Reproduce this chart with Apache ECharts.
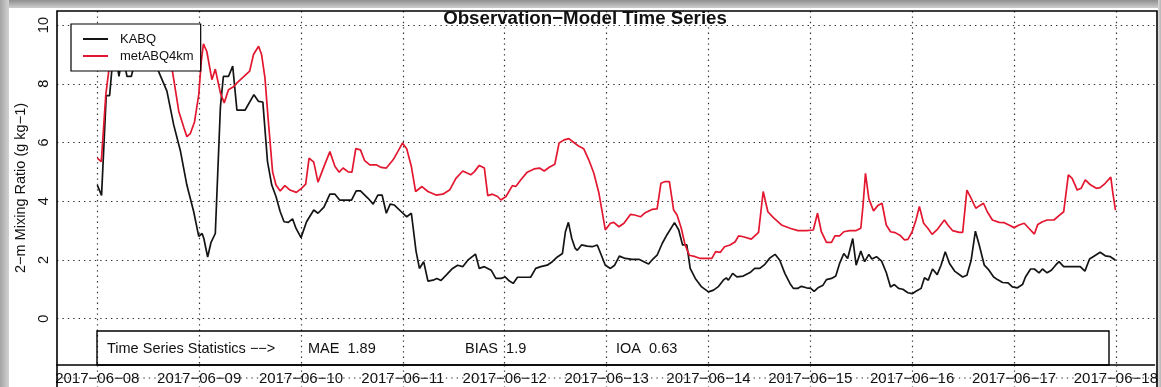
<!DOCTYPE html>
<html>
<head>
<meta charset="utf-8">
<script src="https://cdn.jsdelivr.net/npm/echarts@6/dist/echarts.min.js"></script>
<style>
  html, body { margin: 0; padding: 0; background: #fff; }
  #wrap { position: relative; width: 1161px; height: 387px; overflow: hidden; background: #fff; }
  #chart { position: absolute; left: 0; top: 0; width: 1161px; height: 387px; }
  .band { position: absolute; }
  .top { left: 0; top: 0; width: 1161px; height: 8px; background: linear-gradient(#8f8f8f, #cdcdcd); }
  .left { left: 0; top: 0; width: 9px; height: 387px; background: linear-gradient(90deg, #a4a4a4, #d2d2d2); }
  .right { right: 0; top: 0; width: 3px; height: 387px; background: linear-gradient(90deg, #dadada, #b4b4b4); }
</style>
</head>
<body>
<div id="wrap">
  <div id="chart"></div>
  <div class="band top"></div>
  <div class="band left"></div>
  <div class="band right"></div>
</div>
<script>
// Hours since 2017-06-08 00:00 and 2-m mixing ratio (g/kg)
const kabq = [
  [0,4.55],[1,4.2],[2.1,7.6],[2.9,7.6],[3.5,8.6],[4.5,8.8],[5.1,8.25],[5.6,8.7],[6.5,8.6],[7,8.25],[8,8.25],
  [8.6,8.6],[10,8.9],[11.5,8.7],[13,8.9],[14.5,8.4],[16.4,7.75],[18,6.6],[19.6,5.7],[21.1,4.55],[22.7,3.65],
  [23.9,2.8],[24.7,2.9],[25.1,2.73],[26,2.1],[26.8,2.6],[27.8,2.9],[29,7.2],[29.7,8.25],[30.9,8.25],[31.9,8.6],
  [32.9,7.1],[34.8,7.1],[36.9,7.63],[38,7.4],[39,7.38],[40.1,5.35],[41.1,4.55],[42.1,4.16],[43.1,3.64],[44,3.3],
  [45,3.28],[46,3.4],[46.8,3.08],[48,2.76],[49.3,3.3],[51,3.7],[52,3.59],[53.4,3.8],[54.8,4.24],[56,4.24],
  [57.1,4.04],[59.9,4.04],[61,4.35],[62,4.35],[63.8,4.1],[65,3.9],[66.1,4.21],[67.1,4.21],[68.1,3.59],[69,3.9],
  [70,3.87],[72,3.59],[72.9,3.47],[74,3.59],[75.1,2.3],[75.9,1.71],[76.9,1.94],[77.9,1.28],[79.1,1.31],[80,1.37],
  [81,1.3],[82.2,1.48],[83.7,1.71],[84.9,1.82],[86.1,1.77],[87.3,1.99],[89.1,2.2],[90,1.71],[91.2,1.77],[92.8,1.65],
  [93.9,1.37],[95.1,1.37],[96.1,1.42],[97.1,1.28],[98,1.2],[99,1.41],[100.2,1.41],[102.1,1.41],[103.3,1.71],
  [104.5,1.77],[106,1.82],[107.2,1.94],[108.4,2.1],[109.6,2.22],[110.3,2.96],[111,3.28],[111.8,2.73],[112.6,2.39],
  [113.1,2.33],[114.1,2.51],[115.4,2.47],[116.6,2.45],[117.8,2.51],[118.3,2.33],[119.7,1.82],[120.9,1.71],
  [121.9,1.82],[123,2.13],[124.4,2.05],[126,2.02],[127.6,2.02],[128.8,1.94],[129.9,1.86],[130.9,2.03],[131.9,2.16],
  [133.1,2.56],[134.2,2.85],[136,3.27],[137,3.02],[137.9,2.51],[138.9,2.51],[139.7,1.71],[140.9,1.37],[142.4,1.08],
  [144,0.91],[145.2,0.97],[146.4,1.1],[147.5,1.31],[148.2,1.39],[148.7,1.31],[149.7,1.54],[150.7,1.42],[152.2,1.45],
  [153.8,1.57],[154.9,1.71],[156.1,1.71],[157.3,1.85],[158.5,2.07],[159.7,2.19],[160.8,1.99],[162,1.54],[163.2,1.2],
  [164,1.03],[165,1.03],[165.9,1.1],[167.1,1.05],[168.1,1.03],[168.9,0.93],[169.8,1.05],[171,1.14],[171.8,1.33],
  [173,1.37],[174,1.45],[174.9,1.88],[175.9,2.22],[176.8,2.05],[178,2.73],[178.8,1.82],[179.9,2.3],[180.8,1.94],
  [181.8,2.19],[182.5,2.03],[183.6,2.11],[184.8,1.96],[185.9,1.57],[186.9,1.08],[187.8,1.16],[188.8,1.03],
  [189.8,1.0],[191,0.88],[192,0.85],[192.9,0.93],[194.1,1.03],[194.9,1.39],[195.8,1.31],[196.8,1.69],[197.9,1.5],
  [198.8,1.82],[199.8,2.28],[200.8,1.88],[202,1.62],[203.9,1.42],[204.9,1.48],[205.9,1.99],[206.9,2.98],
  [207.8,2.51],[209,1.82],[210.1,1.65],[211.2,1.42],[212.1,1.33],[213.3,1.23],[214.6,1.22],[215.6,1.08],
  [216.8,1.05],[218,1.16],[218.7,1.42],[219.9,1.69],[220.8,1.69],[221.9,1.56],[222.7,1.69],[223.8,1.56],
  [224.8,1.65],[225.8,1.82],[226.6,1.94],[227.7,1.77],[228.9,1.77],[230.1,1.77],[231.6,1.77],[232.7,1.62],
  [233.8,2.03],[235.2,2.16],[236.3,2.26],[237.5,2.14],[238.7,2.11],[239.9,1.99]
];

const metABQ4km = [
  [0,5.47],[0.94,5.35],[2,7.63],[2.75,8.5],[4,9.0],[6,9.2],[8,9.0],[10,9.3],[12,9.1],[14,9.0],[16,8.9],
  [17.7,8.43],[19.2,7.06],[20.4,6.5],[21.1,6.2],[21.9,6.3],[22.9,6.7],[23.9,7.63],[24.5,8.77],[25,9.36],
  [25.8,9.1],[27,8.14],[27.8,8.5],[29,7.69],[29.9,7.35],[30.9,7.8],[32.1,7.9],[32.9,8.03],[35.9,8.43],[36.8,9.0],
  [38,9.28],[38.7,9.0],[39.5,8.2],[40.3,6.72],[41.3,5.0],[42.1,4.55],[43.1,4.35],[44.2,4.53],[45.4,4.38],
  [46.9,4.3],[48.1,4.44],[49.1,4.58],[49.9,5.47],[51,5.33],[52,4.65],[53.4,5.18],[54.8,5.69],[56,5.18],[57,4.99],
  [57.9,5.13],[59.1,5.0],[60,4.99],[60.9,5.79],[62,5.75],[63,5.38],[64.2,5.24],[65.7,5.24],[66.9,5.15],[68.1,5.13],
  [69.7,5.41],[70.8,5.69],[71.9,5.98],[72.9,5.79],[74,5.18],[75,4.33],[76.5,4.5],[77.9,4.33],[79.8,4.21],
  [81.4,4.24],[83,4.38],[84.5,4.78],[86.1,5.03],[88,4.9],[88.8,5.0],[90,5.22],[91.2,5.13],[92,4.19],[93.1,4.24],
  [94.3,4.16],[95.1,4.04],[96.3,4.16],[97.8,4.53],[98.6,4.5],[99.8,4.73],[101.3,4.99],[102.9,5.1],[104.2,5.13],
  [105.3,5.03],[106.4,5.15],[107.8,5.26],[108.8,5.98],[110,6.09],[111.1,6.13],[112.3,6.0],[113.5,5.87],
  [114.6,5.79],[115.8,5.41],[117,4.95],[118.2,4.27],[119.7,3.02],[120.9,3.25],[121.7,3.28],[122.9,3.13],
  [124.1,3.25],[125.6,3.55],[126.6,3.53],[128,3.47],[129.1,3.61],[130.7,3.72],[131.9,3.74],[132.8,4.61],
  [133.8,4.67],[134.8,4.67],[135.8,3.7],[136.6,3.53],[137.6,3.08],[138.5,2.51],[139.5,2.16],[140.9,2.11],
  [142.1,2.05],[144,2.05],[144.8,2.05],[145.7,2.28],[146.8,2.26],[147.8,2.45],[149.1,2.51],[150.3,2.62],
  [151.1,2.82],[152.2,2.79],[154.1,2.71],[155.8,2.94],[156.9,4.33],[158,3.64],[159.3,3.44],[161.2,3.19],
  [163.2,3.08],[165.1,3.0],[167.1,3.0],[168.7,3.02],[169.7,3.59],[170.6,2.96],[171.8,2.6],[173,2.6],[173.8,2.82],
  [174.9,2.82],[175.9,2.96],[177.3,3.0],[178.8,3.0],[179.9,3.08],[180.4,3.82],[181,4.95],[181.8,4.08],
  [182.9,3.67],[183.9,3.85],[184.9,3.93],[185.9,3.19],[186.9,2.96],[188,2.93],[189.3,2.82],[190.2,2.68],[191,2.7],
  [192,2.96],[192.9,3.36],[193.7,3.82],[194.7,3.25],[195.7,3.08],[196.7,2.87],[198,3.05],[199.6,3.36],[200.4,3.19],
  [201.5,3.0],[203.1,2.94],[203.9,2.94],[204.9,4.38],[205.9,4.1],[207,3.76],[207.8,3.84],[208.8,3.93],[209.7,3.64],
  [210.9,3.36],[212.5,3.28],[213.7,3.27],[214.8,3.19],[216,3.1],[217.2,3.19],[218.4,3.25],[219.5,3.08],
  [220.8,2.88],[221.6,3.21],[222.7,3.3],[223.8,3.36],[225.4,3.36],[226.6,3.51],[227.7,3.64],[228.8,4.9],
  [229.7,4.78],[230.9,4.38],[231.8,4.44],[232.8,4.73],[234,4.56],[235.4,4.44],[236.3,4.46],[237.5,4.61],
  [238.8,4.82],[239.3,4.27],[239.9,3.7]
];

const dayLabels = ['2017−06−08','2017−06−09','2017−06−10','2017−06−11','2017−06−12','2017−06−13',
                   '2017−06−14','2017−06−15','2017−06−16','2017−06−17','2017−06−18'];
const dayTicks = dayLabels.map((_, i) => i * 24);
const yTicks = [0, 2, 4, 6, 8, 10];
const seriesNames = ['KABQ', 'metABQ4km'];
const statNames = ['MAE', 'BIAS', 'IOA'];
const statValues = ['1.89', '1.9', '0.63'];

const FONT = '"Liberation Sans", Arial, Helvetica, sans-serif';
const dotted = { color: '#333', width: 1.2, type: [1.4, 4] };

const chart = echarts.init(document.getElementById('chart'), null, { renderer: 'canvas' });

const statX = [308, 465, 616];
const graphic = [
  // plot frame (runs off the bottom edge)
  { type: 'rect', shape: { x: 57, y: 11, width: 1100, height: 390 },
    style: { fill: 'none', stroke: '#000', lineWidth: 1.6 }, z: 10 },
  // dotted level below the axis line
  { type: 'line', shape: { x1: 57, y1: 378, x2: 1157, y2: 378 },
    style: { stroke: '#333', lineWidth: 1.2, lineDash: [1.4, 4] }, z: 1 },
  // statistics box
  { type: 'rect', shape: { x: 97, y: 331, width: 1012, height: 34 },
    style: { fill: 'none', stroke: '#000', lineWidth: 1.4 }, z: 10 },
  { type: 'text', x: 107, y: 349,
    style: { text: 'Time Series Statistics −−>', font: '14.5px ' + FONT, fill: '#111',
             textVerticalAlign: 'middle' }, z: 10 },
  { type: 'text', x: 585, y: 19,
    style: { text: 'Observation−Model Time Series', font: 'bold 18.7px ' + FONT, fill: '#111',
             textAlign: 'center', textVerticalAlign: 'middle' }, z: 10 }
];
statNames.forEach((n, i) => {
  graphic.push({ type: 'text', x: statX[i], y: 349,
    style: { text: n + '  ' + statValues[i], font: '14.5px ' + FONT, fill: '#111',
             textVerticalAlign: 'middle' }, z: 10 });
});

chart.setOption({
  animation: false,
  backgroundColor: 'transparent',
  grid: { left: 57, right: 4, top: 11, bottom: 22, show: false },
  legend: {
    data: seriesNames, orient: 'vertical', left: 71, top: 24,
    padding: [8, 7, 8, 12], itemGap: 3, itemWidth: 25, itemHeight: 2, icon: 'rect',
    backgroundColor: '#fff', borderColor: '#000', borderWidth: 1.2, borderRadius: 0,
    textStyle: { fontSize: 13, color: '#111', fontFamily: FONT, padding: [0, 0, 0, 7], lineHeight: 14 },
    z: 20
  },
  xAxis: {
    type: 'value', min: -9.5, max: 249.1,
    axisLine: { show: true, onZero: false, lineStyle: { color: '#000', width: 1.6 } },
    axisTick: { show: true, customValues: dayTicks, length: 22, inside: false, lineStyle: dotted },
    axisLabel: { customValues: dayTicks, margin: 6, fontSize: 15, color: '#111', fontFamily: FONT,
                 formatter: v => dayLabels[Math.round(v / 24)] },
    splitLine: { show: true, lineStyle: dotted }
  },
  yAxis: {
    type: 'value', min: -1.58, max: 10.48,
    name: '2−m Mixing Ratio (g kg−1)', nameLocation: 'middle', nameGap: 29,
    nameTextStyle: { fontSize: 14.5, color: '#111', fontFamily: FONT },
    axisLine: { show: false },
    axisTick: { show: false, customValues: yTicks },
    axisLabel: { customValues: yTicks, rotate: 90, margin: 6, fontSize: 14.5, color: '#111', fontFamily: FONT },
    splitLine: { show: true, lineStyle: dotted }
  },
  graphic: graphic,
  series: [
    { name: seriesNames[0], type: 'line', data: kabq, symbol: 'none', color: '#141414',
      lineStyle: { width: 1.7, color: '#141414' }, z: 3 },
    { name: seriesNames[1], type: 'line', data: metABQ4km, symbol: 'none', color: '#e3172f',
      lineStyle: { width: 1.7, color: '#e3172f' }, z: 4 }
  ]
});
</script>
</body>
</html>
